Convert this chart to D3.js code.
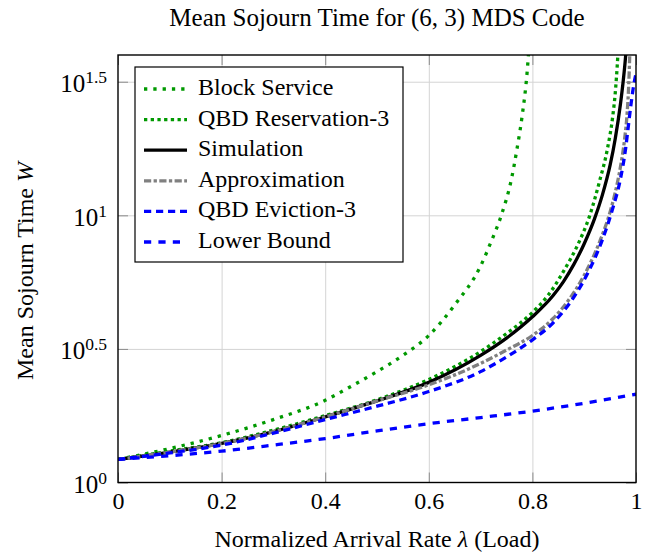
<!DOCTYPE html>
<html><head><meta charset="utf-8">
<script src="https://cdn.jsdelivr.net/npm/d3@7"></script>
<style>
body{margin:0;background:#fff}
svg{display:block}
text{font-family:"Liberation Serif","Times New Roman",serif;fill:#000}
</style>
</head><body>
<svg id="chart" width="651" height="554"></svg>
<script>
// ---- data ----
const blockLoad = [0,0.1,0.2,0.3,0.4,0.45,0.5,0.55,0.6,0.65,0.7,0.72,0.74,0.76,0.77,0.78,0.79,0.80];
const blockW    = [1.22,1.34,1.50,1.72,2.03,2.29,2.60,2.99,3.55,4.62,6.46,7.94,10.0,13.8,17.6,23.4,34.7,70.8];

const reservLoad = [0,0.1,0.2,0.3,0.4,0.5,0.6,0.7,0.75,0.8,0.83,0.86,0.89,0.91,0.93,0.945,0.955,0.96,0.965,0.97];
const reservW    = [1.22,1.31,1.41,1.57,1.78,2.04,2.43,3.09,3.61,4.33,5.01,6.17,7.94,9.89,13.5,17.8,23.4,28.8,39.8,63.1];

const simLoad = [0,0.1,0.2,0.3,0.4,0.5,0.6,0.7,0.75,0.8,0.84,0.86,0.88,0.9,0.92,0.935,0.95,0.96,0.97,0.975,0.98,0.985];
const simW    = [1.22,1.30,1.40,1.55,1.76,2.02,2.37,2.99,3.47,4.17,5.01,5.65,6.55,7.83,9.72,11.9,15.4,19.4,26.1,31.4,39.5,55.8];

const approxLoad = [0,0.1,0.2,0.3,0.4,0.5,0.6,0.7,0.75,0.8,0.84,0.87,0.9,0.93,0.95,0.96,0.97,0.978,0.983,0.986,0.989];
const approxW    = [1.22,1.30,1.40,1.55,1.76,2.02,2.32,2.79,3.13,3.55,4.11,4.82,5.97,7.98,10.3,12.2,15.2,19.3,24.3,30.9,46.8];

const evictLoad = [0,0.1,0.2,0.3,0.4,0.5,0.6,0.7,0.75,0.8,0.84,0.88,0.91,0.935,0.955,0.97,0.98,0.985,0.99,0.995,1.0];
const evictW    = [1.22,1.29,1.38,1.53,1.72,1.93,2.19,2.60,2.95,3.42,3.96,4.94,6.25,8.09,10.6,13.7,17.8,21.4,25.7,30.2,33.9];

const lowerLoad = [0,0.1,0.2,0.3,0.4,0.5,0.6,0.7,0.8,0.9,1.0];
const lowerW    = [1.22,1.26,1.31,1.38,1.46,1.56,1.66,1.75,1.85,1.98,2.14];

const seriesNames = ["Block Service","QBD Reservation-3","Simulation","Approximation","QBD Eviction-3","Lower Bound"];
const xTicks = [0,0.2,0.4,0.6,0.8,1];
const xTickLabels = ["0","0.2","0.4","0.6","0.8","1"];
const yTickExps = [0,0.5,1,1.5];
const yTickExpLabels = ["0","0.5","1","1.5"];

// ---- styles ----
const styles = [
  {color:"#009900", dash:"3.3,6"},
  {color:"#009900", dash:"3.3,3.4"},
  {color:"#000000", dash:null},
  {color:"#808080", dash:"7.2,2.4,3.3,2.4"},
  {color:"#0000ff", dash:"7.2,4.8"},
  {color:"#0000ff", dash:"7.2,7.2"}
];
const LW = 3.3;

const seriesData = [
  [blockLoad, blockW],[reservLoad, reservW],[simLoad, simW],
  [approxLoad, approxW],[evictLoad, evictW],[lowerLoad, lowerW]
].map(([xs, ws]) => xs.map((v,i)=>[v, ws[i]]));

const L = 118, R = 636, T = 55, B = 482.5;
const svg = d3.select("#chart");
const x = d3.scaleLinear().domain([0,1]).range([L,R]);
const y = d3.scaleLog().domain([1, Math.pow(10,1.6)]).range([B,T]);
const yTickVals = yTickExps.map(e=>Math.pow(10,e));

// gridlines
const grid = svg.append("g");
grid.append("g").attr("transform",`translate(0,${B})`)
  .call(d3.axisBottom(x).tickValues(xTicks.slice(1,-1)).tickSize(-(B-T)).tickFormat(""))
  .call(g=>g.select(".domain").remove())
  .call(g=>g.selectAll("line").attr("stroke","#d4d4d4").attr("stroke-width",1));
grid.append("g").attr("transform",`translate(${L},0)`)
  .call(d3.axisLeft(y).tickValues(yTickVals.slice(1)).tickSize(-(R-L)).tickFormat(""))
  .call(g=>g.select(".domain").remove())
  .call(g=>g.selectAll("line").attr("stroke","#d4d4d4").attr("stroke-width",1));

// ticks (inside, all sides)
const tickCol = "#8c8c8c";
svg.append("g").attr("transform",`translate(0,${B})`)
  .call(d3.axisBottom(x).tickValues(xTicks).tickSizeInner(-10).tickSizeOuter(0).tickPadding(9).tickFormat((d,i)=>xTickLabels[i]))
  .call(g=>g.select(".domain").remove())
  .call(g=>g.selectAll("line").attr("stroke",tickCol))
  .call(g=>g.selectAll("text").attr("font-size",24).attr("font-family","Liberation Serif, serif"));
svg.append("g").attr("transform",`translate(0,${T})`)
  .call(d3.axisTop(x).tickValues(xTicks).tickSizeInner(-10).tickSizeOuter(0).tickFormat(""))
  .call(g=>g.select(".domain").remove())
  .call(g=>g.selectAll("line").attr("stroke",tickCol));
const yAx = svg.append("g").attr("transform",`translate(${L},0)`)
  .call(d3.axisLeft(y).tickValues(yTickVals).tickSizeInner(-10).tickSizeOuter(0).tickFormat(""))
  .call(g=>g.select(".domain").remove())
  .call(g=>g.selectAll("line").attr("stroke",tickCol));
yAx.selectAll(".tick").each(function(d,i){
  const g = d3.select(this);
  g.select("text").remove();
  const t = g.append("text").attr("x",-11).attr("y",10).attr("text-anchor","end")
    .attr("font-size",25).attr("font-family","Liberation Serif, serif");
  t.append("tspan").text("10");
  t.append("tspan").attr("font-size",17.5).attr("dy",-9).text(yTickExpLabels[i]);
});
svg.append("g").attr("transform",`translate(${R},0)`)
  .call(d3.axisRight(y).tickValues(yTickVals).tickSizeInner(-10).tickSizeOuter(0).tickFormat(""))
  .call(g=>g.select(".domain").remove())
  .call(g=>g.selectAll("line").attr("stroke",tickCol));

// curves
svg.append("clipPath").attr("id","clip").append("rect")
  .attr("x",L).attr("y",T).attr("width",R-L).attr("height",B-T);
const line = d3.line().x(d=>x(d[0])).y(d=>y(d[1])).curve(d3.curveMonotoneX);
const curves = svg.append("g").attr("clip-path","url(#clip)");
seriesData.forEach((data,i)=>{
  curves.append("path").datum(data).attr("d",line)
    .attr("fill","none").attr("stroke",styles[i].color).attr("stroke-width",LW)
    .attr("stroke-dasharray",styles[i].dash).attr("stroke-linejoin","round");
});

// frame
svg.append("rect").attr("x",L).attr("y",T).attr("width",R-L).attr("height",B-T)
  .attr("fill","none").attr("stroke","#000").attr("stroke-width",1.4);

// legend
const lg = svg.append("g");
lg.append("rect").attr("x",135).attr("y",67).attr("width",268).attr("height",195)
  .attr("fill","#fff").attr("stroke","#000").attr("stroke-width",1.2);
seriesNames.forEach((name,i)=>{
  const ly = 89 + i*30.6;
  lg.append("line").attr("x1",144).attr("x2",187).attr("y1",ly).attr("y2",ly)
    .attr("stroke",styles[i].color).attr("stroke-width",LW).attr("stroke-dasharray",styles[i].dash);
  lg.append("text").attr("x",198).attr("y",ly+6).attr("font-size",24).text(name);
});

// titles
svg.append("text").attr("x",(L+R)/2).attr("y",26).attr("text-anchor","middle").attr("font-size",25)
  .text("Mean Sojourn Time for (6, 3) MDS Code");
svg.append("text").attr("x",(L+R)/2).attr("y",547).attr("text-anchor","middle").attr("font-size",24)
  .html('Normalized Arrival Rate <tspan font-style="italic">λ</tspan> (Load)');
svg.append("text").attr("transform","translate(33,271) rotate(-90)").attr("text-anchor","middle").attr("font-size",24)
  .html('Mean Sojourn Time <tspan font-style="italic">W</tspan>');
</script>
</body></html>
